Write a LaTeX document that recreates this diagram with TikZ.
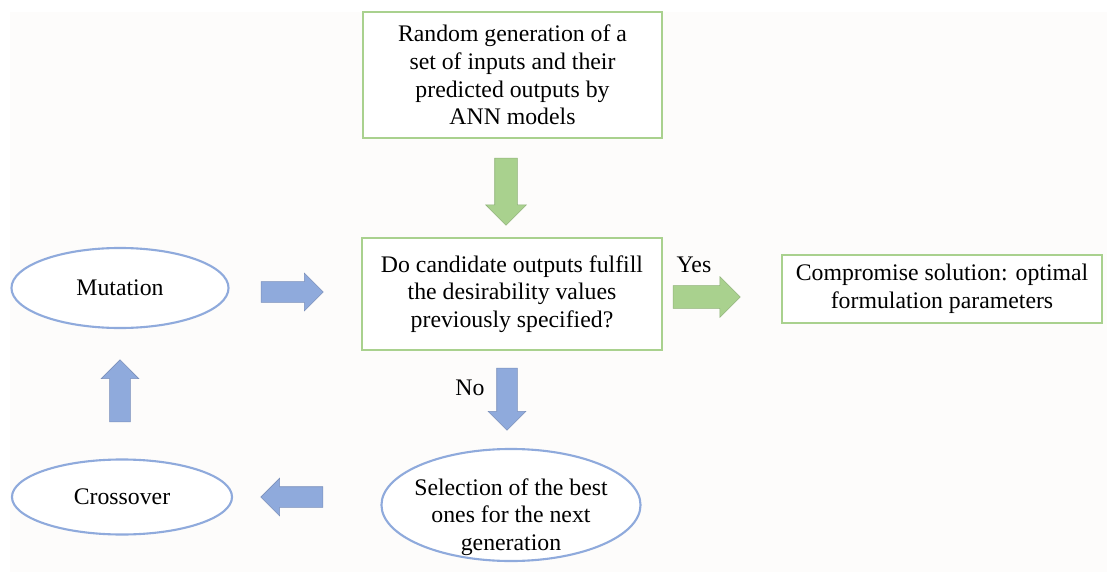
\documentclass[tikz,border=0pt]{standalone}
\usepackage{fontspec}
\setmainfont{Liberation Serif}
\usetikzlibrary{shapes.geometric, shapes.arrows, positioning}
\definecolor{verdeB}{RGB}{169,209,142}
\definecolor{azulB}{RGB}{143,170,220}
\definecolor{fondo}{RGB}{253,252,251}

\begin{document}
\begin{tikzpicture}[
  x=0.025cm, y=-0.025cm,
  every node/.style={font=\fontsize{16.9}{19.6}\selectfont},
  caja/.style={
    rectangle, draw=verdeB, line width=1.6pt,
    align=center, fill=white
  },
  ovalo/.style={
    ellipse, draw=azulB, line width=1.5pt,
    align=center, fill=white, inner sep=0pt
  },
  flecha/.style={single arrow, line width=0.4pt},
  flechaV/.style={
    flecha, fill=verdeB, draw=verdeB!85!black,
    minimum height=1.675cm, inner sep=0.275cm,
    single arrow head extend=0.225cm
  },
  flechaA/.style={
    flecha, fill=azulB, draw=azulB!85!black,
    minimum height=1.55cm, inner sep=0.25cm,
    single arrow head extend=0.2125cm
  },
  etiq/.style={inner sep=0pt}
]
  % --- Fondo ---
  \useasboundingbox (0,0) rectangle (1107,572);
  \fill[fondo] (10,12) rectangle (1107,572);

  % --- Cajas ---
  \node[caja, minimum width=7.475cm, minimum height=3.15cm] (gen) at (512.5,75)
    {Random generation of a\\set of inputs and their\\predicted outputs by\\ANN models};
  \node[caja, minimum width=7.5cm, minimum height=2.8cm] (check) at (512,294)
    {Do candidate outputs fulfill\\the desirability values\\previously specified?};
  \node[caja, minimum width=8.0cm, minimum height=1.7cm] (sol) at (942,289)
    {Compromise solution: optimal\\formulation parameters};

  % --- Operadores ---
  \node[ovalo, minimum width=5.425cm, minimum height=2.0cm] (mut) at (120,288) {Mutation};
  \node[ovalo, minimum width=5.5cm, minimum height=1.875cm] (cross) at (122,497) {Crossover};
  \node[ovalo, minimum width=6.475cm, minimum height=2.8cm,
        label={[etiq, align=center, yshift=-0.3cm]center:Selection of the best\\ones for the next\\generation}]
    (sel) at (511,505) {};

  % --- Flechas ---
  \node[flechaV, shape border rotate=270] (f1) at (506,186) {};
  \node[flechaV] (f2) at (701,297) {};
  \node[flechaA, shape border rotate=270] (f3) at (507,394) {};
  \node[flechaA, shape border rotate=180] (f4) at (297,497) {};
  \node[flechaA, shape border rotate=90] (f5) at (120,396) {};
  \node[flechaA] (f6) at (287,292) {};

  % --- Etiquetas ---
  \node[etiq] (yes) at (694,265) {Yes};
  \node[etiq] (no) at (470,388) {No};
\end{tikzpicture}
\end{document}
